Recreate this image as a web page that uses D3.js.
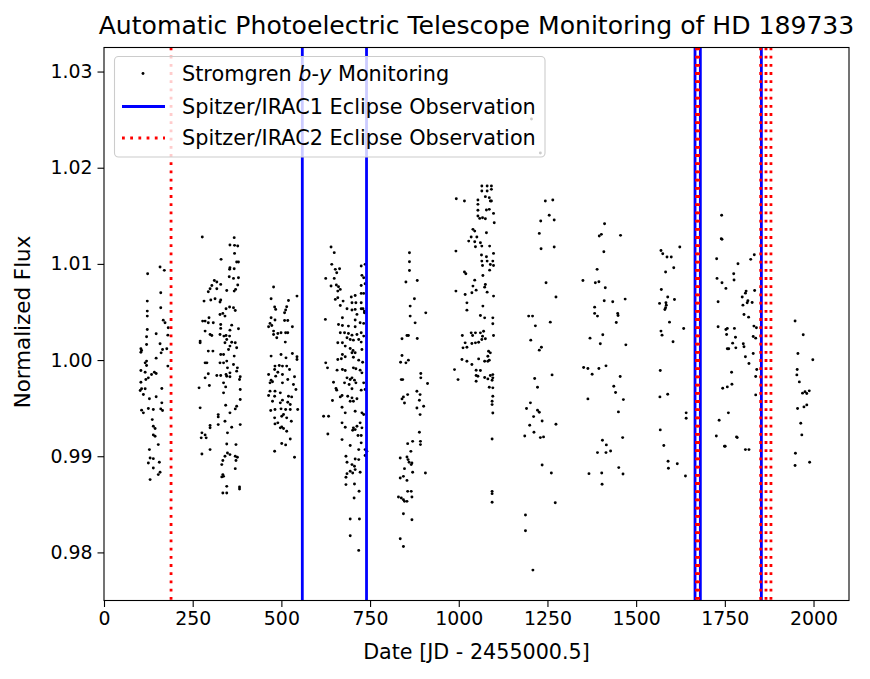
<!DOCTYPE html>
<html><head><meta charset="utf-8">
<script src="https://cdn.jsdelivr.net/npm/d3@7"></script>
<style>body{margin:0;background:#fff}svg{display:block;font-family:"DejaVu Sans",sans-serif}</style>
</head><body><svg id="c" width="870" height="679"></svg>
<script>
// Stromgren b-y monitoring: [date (JD-2455000.5), normalized flux]
const season1 = [[123,1.00898],[158,1.00967],[170,1.00933],[160,1.00700],[122,1.00613],[122,1.00509],[122,1.00457],[160,1.00544],[167,1.00415],[172,1.00388],[122,1.00318],[181,1.00336],[147,1.00273],[120,1.00242],[180,1.00259],[158,1.00169],[120,1.00162],[177,1.00117],[165,1.00110],[161,1.00075],[104,1.00117],[104,1.00082],[106,1.00100],[116,0.99971],[120,0.99989],[120,0.99944],[147,1.00020],[180,0.99937],[104,0.99891],[116,0.99874],[134,0.99850],[142,0.99874],[147,0.99860],[125,0.99815],[118,0.99798],[104,0.99770],[106,0.99701],[102,0.99683],[116,0.99701],[111,0.99642],[163,0.99704],[147,0.99618],[128,0.99597],[163,0.99555],[106,0.99479],[111,0.99451],[125,0.99496],[139,0.99486],[160,0.99492],[165,0.99475],[136,0.99381],[139,0.99312],[144,0.99288],[139,0.99222],[144,0.99208],[153,0.99121],[128,0.99069],[130,0.98982],[139,0.98975],[125,0.98930],[156,0.98937],[139,0.98878],[158,0.98833],[153,0.98809],[130,0.98757]];
const season2 = [[277,1.01279],[367,1.01273],[355,1.01196],[368,1.01193],[377,1.01186],[368,1.01109],[330,1.01047],[374,1.01019],[379,1.01019],[355,1.00960],[367,1.00950],[354,1.00943],[353,1.00867],[365,1.00849],[379,1.00856],[377,1.00780],[311,1.00828],[318,1.00811],[304,1.00776],[299,1.00742],[329,1.00787],[318,1.00742],[294,1.00710],[367,1.00717],[346,1.00724],[371,1.00735],[282,1.00613],[301,1.00624],[313,1.00638],[329,1.00624],[327,1.00603],[344,1.00533],[354,1.00551],[365,1.00544],[370,1.00516],[335,1.00485],[327,1.00474],[341,1.00457],[296,1.00440],[278,1.00405],[285,1.00405],[294,1.00388],[308,1.00388],[329,1.00370],[360,1.00363],[329,1.00329],[379,1.00325],[355,1.00311],[285,1.00301],[299,1.00266],[304,1.00256],[327,1.00266],[338,1.00249],[344,1.00256],[354,1.00249],[346,1.00214],[341,1.00180],[360,1.00186],[370,1.00180],[271,1.00197],[271,1.00180],[355,1.00145],[294,1.00093],[307,1.00093],[329,1.00058],[351,1.00110],[367,1.00041],[337,1.00058],[374,1.00128],[285,0.99971],[290,0.99971],[327,0.99971],[337,0.99971],[346,0.99989],[365,0.99954],[348,0.99919],[355,0.99867],[374,0.99885],[376,0.99919],[344,0.99850],[294,0.99857],[318,0.99839],[329,0.99839],[346,0.99832],[355,0.99826],[384,0.99826],[382,0.99798],[285,0.99815],[337,0.99763],[343,0.99721],[297,0.99735],[268,0.99711],[384,0.99694],[337,0.99659],[384,0.99590],[374,0.99520],[370,0.99492],[343,0.99530],[271,0.99503],[355,0.99451],[322,0.99433],[322,0.99409],[341,0.99364],[299,0.99319],[299,0.99295],[360,0.99302],[322,0.99329],[384,0.99329],[276,0.99243],[285,0.99222],[288,0.99191],[274,0.99191],[348,0.99243],[299,0.99069],[276,0.99024],[346,0.99128],[372,0.99121],[348,0.99034],[355,0.99017],[341,0.99000],[370,0.99000],[376,0.98989],[335,0.98955],[372,0.98955],[332,0.98913],[370,0.98871],[335,0.98809],[337,0.98791],[332,0.98785],[346,0.98687],[382,0.98681],[382,0.98660],[335,0.98618],[346,0.98618]];
const season3 = [[478,1.00759],[471,1.00638],[544,1.00665],[520,1.00620],[481,1.00551],[484,1.00527],[515,1.00554],[512,1.00520],[509,1.00492],[471,1.00440],[468,1.00381],[464,1.00346],[473,1.00360],[482,1.00416],[509,1.00412],[518,1.00412],[531,1.00346],[478,1.00301],[478,1.00266],[490,1.00277],[499,1.00284],[512,1.00284],[518,1.00284],[487,1.00232],[511,1.00187],[471,1.00041],[499,1.00058],[513,1.00023],[531,1.00069],[544,1.00034],[544,1.00006],[482,0.99937],[494,0.99944],[503,0.99937],[515,0.99937],[523,0.99902],[481,0.99902],[490,0.99874],[464,0.99850],[484,0.99833],[503,0.99850],[537,0.99826],[471,0.99791],[468,0.99763],[475,0.99774],[518,0.99798],[503,0.99763],[534,0.99746],[541,0.99694],[468,0.99677],[482,0.99677],[497,0.99659],[464,0.99631],[481,0.99624],[520,0.99624],[529,0.99617],[503,0.99583],[475,0.99572],[497,0.99555],[518,0.99562],[525,0.99538],[470,0.99475],[482,0.99486],[499,0.99493],[512,0.99486],[525,0.99486],[546,0.99486],[506,0.99434],[501,0.99416],[515,0.99399],[481,0.99399],[528,0.99364],[482,0.99336],[490,0.99347],[501,0.99305],[506,0.99288],[497,0.99295],[515,0.99260],[525,0.99180],[501,0.99132],[512,0.99118],[481,0.99052],[537,0.98989]];
const season4 = [[640,1.01176],[649,1.01117],[642,1.00995],[652,1.00943],[664,1.00950],[656,1.00908],[625,1.00849],[649,1.00849],[655,1.00780],[640,1.00770],[661,1.00763],[666,1.00735],[659,1.00717],[725,1.00978],[736,1.00995],[727,1.00881],[732,1.00856],[725,1.00776],[736,1.00794],[652,1.00631],[659,1.00648],[674,1.00613],[666,1.00568],[697,1.00655],[708,1.00672],[725,1.00693],[732,1.00693],[699,1.00596],[710,1.00596],[725,1.00596],[685,1.00534],[699,1.00520],[708,1.00527],[725,1.00534],[730,1.00534],[734,1.00509],[713,1.00475],[734,1.00492],[624,1.00423],[672,1.00440],[661,1.00370],[672,1.00360],[689,1.00353],[708,1.00416],[722,1.00388],[732,1.00381],[708,1.00346],[666,1.00284],[678,1.00284],[689,1.00277],[699,1.00259],[713,1.00266],[725,1.00284],[732,1.00249],[685,1.00232],[694,1.00214],[703,1.00207],[718,1.00214],[725,1.00187],[659,1.00180],[672,1.00180],[680,1.00145],[694,1.00121],[702,1.00100],[699,1.00076],[708,1.00076],[727,1.00110],[672,1.00058],[669,1.00013],[680,1.00034],[659,1.00006],[703,1.00030],[718,0.99999],[729,0.99978],[625,0.99971],[630,0.99919],[657,0.99895],[672,0.99902],[680,0.99892],[703,0.99919],[710,0.99909],[722,0.99895],[727,0.99867],[685,0.99815],[694,0.99798],[699,0.99815],[706,0.99791],[678,0.99763],[691,0.99746],[710,0.99763],[732,0.99763],[647,0.99770],[654,0.99704],[656,0.99687],[671,0.99631],[666,0.99617],[699,0.99701],[725,0.99687],[736,0.99694],[687,0.99624],[699,0.99607],[713,0.99597],[644,0.99579],[694,0.99572],[703,0.99572],[671,0.99510],[680,0.99451],[708,0.99468],[727,0.99451],[732,0.99434],[619,0.99416],[633,0.99416],[671,0.99347],[680,0.99302],[703,0.99295],[713,0.99312],[722,0.99347],[727,0.99295],[701,0.99270],[708,0.99277],[716,0.99215],[725,0.99215],[631,0.99232],[671,0.99173],[694,0.99111],[725,0.99139],[718,0.99069],[736,0.99069],[741,0.99052],[736,0.99007],[682,0.99000],[685,0.98937],[708,0.98972],[718,0.98965],[699,0.98913],[706,0.98896],[694,0.98844],[701,0.98826],[708,0.98861],[685,0.98819],[722,0.98833],[682,0.98781],[706,0.98712],[682,0.98705],[719,0.98636],[705,0.98566],[694,0.98347],[720,0.98347],[694,0.98174],[718,0.98021]];
const season5 = [[861,1.01116],[861,1.01022],[861,1.00932],[851,1.00811],[883,1.00828],[875,1.00637],[863,1.00561],[907,1.00491],[863,1.00457],[877,1.00387],[854,1.00255],[858,1.00255],[840,1.00221],[883,1.00224],[840,1.00047],[836,0.99978],[851,0.99971],[858,0.99999],[838,0.99797],[842,0.99797],[893,0.99860],[893,0.99815],[912,0.99756],[844,0.99617],[856,0.99641],[840,0.99596],[847,0.99554],[882,0.99676],[891,0.99641],[889,0.99582],[901,0.99520],[882,0.99502],[891,0.99433],[889,0.99249],[870,0.99155],[892,0.99155],[892,0.99121],[856,0.99131],[865,0.99051],[835,0.98982],[854,0.98992],[857,0.98965],[860,0.98937],[868,0.98930],[866,0.98913],[847,0.98871],[870,0.98833],[906,0.98826],[835,0.98774],[844,0.98791],[854,0.98749],[856,0.98635],[866,0.98635],[830,0.98576],[838,0.98566],[847,0.98531],[854,0.98531],[868,0.98576],[844,0.98548],[844,0.98402],[868,0.98340],[835,0.98142],[844,0.98062]];
const season6 = [[1065,1.01810],[1080,1.01810],[1092,1.01810],[1065,1.01758],[1080,1.01758],[1092,1.01775],[993,1.01678],[1016,1.01654],[1054,1.01664],[1054,1.01619],[1075,1.01699],[1086,1.01689],[1089,1.01654],[1092,1.01654],[1054,1.01557],[1078,1.01560],[1086,1.01567],[1098,1.01525],[1054,1.01498],[1067,1.01480],[1059,1.01473],[1075,1.01470],[1100,1.01428],[1040,1.01359],[1045,1.01341],[1078,1.01324],[1051,1.01279],[1035,1.01279],[1028,1.01237],[1045,1.01230],[1061,1.01220],[1065,1.01185],[1047,1.01178],[1087,1.01185],[992,1.01133],[1064,1.01092],[1078,1.01074],[1098,1.01109],[1065,1.01029],[1080,1.01029],[1096,1.01029],[1089,1.00994],[1067,1.00984],[1098,1.00984],[1087,1.00935],[1016,1.00915],[1020,1.00897],[1068,1.00880],[1045,1.00831],[1040,1.00769],[1075,1.00786],[1073,1.00758],[1037,1.00700],[1049,1.00727],[1080,1.00706],[992,1.00717],[1018,1.00682],[1098,1.00665],[1023,1.00595],[1023,1.00519],[1068,1.00561],[1061,1.00464],[1073,1.00439],[1096,1.00439],[1096,1.00377],[1010,1.00255],[1035,1.00283],[1039,1.00255],[1047,1.00283],[1061,1.00283],[1070,1.00300],[1067,1.00248],[1098,1.00255],[1018,1.00179],[1012,1.00127],[1023,1.00134],[1037,1.00172],[1047,1.00179],[1056,1.00186],[1065,1.00214],[1075,1.00221],[1084,1.00092],[1089,1.00075],[1082,1.00040],[1073,0.99988],[1082,0.99988],[1086,0.99999],[1009,1.00006],[1023,0.99988],[1037,0.99954],[1056,1.00012],[988,0.99901],[998,0.99797],[1049,0.99894],[1061,0.99891],[1049,0.99839],[1054,0.99832],[1073,0.99818],[1082,0.99804],[1089,0.99839],[1096,0.99849],[1096,0.99815],[1094,0.99790],[1049,0.99780],[1086,0.99717],[1096,0.99711],[1096,0.99624],[1094,0.99572],[1094,0.99537],[1096,0.99450],[1094,0.99180],[1094,0.98635],[1094,0.98611],[1094,0.98521]];
const season7 = [[1205,1.02506],[1230,1.02153],[1244,1.01654],[1265,1.01664],[1255,1.01505],[1231,1.01446],[1269,1.01456],[1227,1.01317],[1232,1.01158],[1269,1.01175],[1246,1.00804],[1274,1.00655],[1197,1.00457],[1208,1.00457],[1216,1.00356],[1258,1.00394],[1203,1.00207],[1227,1.00103],[1233,1.00134],[1263,0.99846],[1214,0.99808],[1222,0.99718],[1202,0.99555],[1191,0.99496],[1222,0.99478],[1227,0.99457],[1211,0.99412],[1235,0.99367],[1200,0.99322],[1274,0.99333],[1212,0.99249],[1186,0.99211],[1230,0.99194],[1239,0.99201],[1235,0.98909],[1261,0.98826],[1272,0.98517],[1188,0.98389],[1188,0.98226],[1209,0.97816]];
const season8 = [[1411,1.01418],[1396,1.01290],[1402,1.01307],[1456,1.01297],[1409,1.01127],[1390,1.00943],[1350,1.00828],[1385,1.00804],[1395,1.00814],[1413,1.00752],[1410,1.00616],[1434,1.00606],[1469,1.00634],[1383,1.00550],[1383,1.00485],[1391,1.00457],[1448,1.00485],[1449,1.00464],[1444,1.00391],[1370,1.00228],[1406,1.00263],[1399,1.00169],[1471,1.00158],[1352,0.99922],[1364,0.99912],[1376,0.99853],[1395,0.99912],[1415,0.99940],[1455,0.99829],[1437,0.99728],[1442,0.99662],[1464,0.99589],[1364,0.99596],[1450,0.99461],[1405,0.99166],[1416,0.99118],[1391,0.99038],[1415,0.99038],[1428,0.99055],[1462,0.99194],[1451,0.98882],[1463,0.98816],[1367,0.98819],[1403,0.98826],[1404,0.98708]];
const season9 = [[1570,1.01140],[1575,1.01106],[1587,1.01071],[1599,1.01071],[1623,1.01175],[1583,1.00915],[1606,1.00960],[1571,1.00734],[1589,1.00655],[1608,1.00630],[1566,1.00589],[1584,1.00596],[1585,1.00571],[1583,1.00544],[1581,1.00526],[1594,1.00394],[1634,1.00328],[1570,1.00301],[1573,1.00259],[1604,1.00190],[1568,0.99891],[1567,0.99617],[1589,0.99645],[1641,0.99451],[1641,0.99395],[1568,0.99274],[1578,0.99111],[1590,0.98948],[1591,0.98875],[1616,0.98922],[1639,0.98794]];
const season10 = [[1741,1.01505],[1740,1.01262],[1742,1.01255],[1727,1.01054],[1787,1.01002],[1775,1.00898],[1728,1.00849],[1742,1.00804],[1776,1.00832],[1753,1.00745],[1731,1.00606],[1731,1.00346],[1753,1.00318],[1757,1.00329],[1777,1.00329],[1755,1.00266],[1780,1.00238],[1772,1.00176],[1757,1.00117],[1761,1.00117],[1781,1.00127],[1769,0.99874],[1744,0.99707],[1757,0.99721],[1770,0.99749],[1760,0.99451],[1734,0.99374],[1726,0.99211],[1783,0.99201],[1785,0.99194],[1749,0.99104],[1751,0.99104],[1833,1.01095],[1823,1.01047],[1810,1.00717],[1808,1.00696],[1834,1.00724],[1799,1.00655],[1815,1.00617],[1813,1.00596],[1827,1.00599],[1801,1.00571],[1804,1.00474],[1817,1.00446],[1832,1.00353],[1839,1.00336],[1830,1.00245],[1837,1.00228],[1802,1.00169],[1804,1.00138],[1830,1.00068],[1808,1.00034],[1818,0.99964],[1840,0.99902],[1837,0.99829],[1837,0.99638],[1808,0.99069],[1818,0.99069]];
const season11 = [[1948,1.00406],[1971,1.00263],[1956,1.00068],[1998,1.00003],[1954,0.99902],[1953,0.99846],[1960,0.99773],[1969,0.99656],[1976,0.99670],[1981,0.99653],[1988,0.99680],[1955,0.99496],[1973,0.99513],[1981,0.99534],[1964,0.99343],[1967,0.99222],[1949,0.99031],[1948,0.98903],[1989,0.98937]];

// Spitzer eclipse observation dates (JD - 2455000.5)
const irac1Dates = [559, 740, 1666, 1681, 1853];
const irac2Dates = [189, 1670, 1676, 1851, 1866, 1880];

const xTicks = [0, 250, 500, 750, 1000, 1250, 1500, 1750, 2000];
const yTicks = [0.98, 0.99, 1.00, 1.01, 1.02, 1.03];
const xDomain = [0, 2100];
const yDomain = [0.975, 1.0325];

const titleText = "Automatic Photoelectric Telescope Monitoring of HD 189733";
const xLabel = "Date [JD - 2455000.5]";
const yLabel = "Normalized Flux";

const allPoints = [season1, season2, season3, season4, season5, season6, season7, season8, season9, season10, season11].flat();

const L = 104, R = 849, T = 47.5, B = 600.5;
const FS = 18.9;
const svg = d3.select("#c");
const x = d3.scaleLinear().domain(xDomain).range([L, R]);
const y = d3.scaleLinear().domain(yDomain).range([B, T]);

const plot = svg.append("g");
plot.append("defs").append("clipPath").attr("id", "clip")
  .append("rect").attr("x", L).attr("y", T).attr("width", R - L).attr("height", B - T);
const inner = plot.append("g").attr("clip-path", "url(#clip)");

inner.selectAll("circle.pt").data(allPoints).join("circle")
  .attr("class", "pt")
  .attr("cx", d => x(d[0])).attr("cy", d => y(d[1])).attr("r", 1.45).attr("fill", "#000");

inner.selectAll("line.irac1").data(irac1Dates).join("line")
  .attr("class", "irac1")
  .attr("x1", d => x(d)).attr("x2", d => x(d)).attr("y1", T).attr("y2", B)
  .attr("stroke", "#0000ff").attr("stroke-width", 2.8);

inner.selectAll("line.irac2").data(irac2Dates).join("line")
  .attr("class", "irac2")
  .attr("x1", d => x(d)).attr("x2", d => x(d)).attr("y1", T).attr("y2", B)
  .attr("stroke", "#ff0000").attr("stroke-width", 2.8).attr("stroke-dasharray", "2.8,5.4");

// axes
const xAxis = d3.axisBottom(x).tickValues(xTicks).tickSize(6.5).tickPadding(5).tickFormat(d3.format("d"));
const yAxis = d3.axisLeft(y).tickValues(yTicks).tickSize(6.5).tickPadding(5).tickFormat(d3.format(".2f"));
const gx = svg.append("g").attr("transform", `translate(0,${B})`).call(xAxis);
const gy = svg.append("g").attr("transform", `translate(${L},0)`).call(yAxis);
[gx, gy].forEach(g => {
  g.select(".domain").remove();
  g.selectAll(".tick line").attr("stroke", "#000").attr("stroke-width", 1.1);
  g.selectAll(".tick text").attr("font-size", FS).attr("fill", "#000").attr("font-family", "DejaVu Sans");
});
gx.selectAll(".tick text").attr("dy", "0.71em");

svg.append("rect").attr("x", L).attr("y", T).attr("width", R - L).attr("height", B - T)
  .attr("fill", "none").attr("stroke", "#000").attr("stroke-width", 1.1);

svg.append("text").attr("x", (L + R) / 2).attr("y", 34).attr("text-anchor", "middle")
  .attr("font-size", 25.1).text(titleText);
svg.append("text").attr("x", (L + R) / 2).attr("y", 659).attr("text-anchor", "middle")
  .attr("font-size", 20.7).text(xLabel);
svg.append("text").attr("transform", `translate(30,${(T + B) / 2 - 2}) rotate(-90)`).attr("text-anchor", "middle")
  .attr("font-size", 21.4).text(yLabel);

// legend
const LFS = 20.8;
const lg = svg.append("g");
lg.append("rect").attr("x", 114.5).attr("y", 56.5).attr("width", 430.5).attr("height", 100.5).attr("rx", 4)
  .attr("fill", "#fff").attr("fill-opacity", 0.8).attr("stroke", "#cccccc").attr("stroke-width", 1.1);
const rows = [73.5, 106.5, 138];
lg.append("circle").attr("cx", 143).attr("cy", rows[0]).attr("r", 1.45).attr("fill", "#000");
lg.append("line").attr("x1", 122).attr("x2", 165).attr("y1", rows[1]).attr("y2", rows[1])
  .attr("stroke", "#0000ff").attr("stroke-width", 2.8);
lg.append("line").attr("x1", 122).attr("x2", 165).attr("y1", rows[2]).attr("y2", rows[2])
  .attr("stroke", "#ff0000").attr("stroke-width", 2.8).attr("stroke-dasharray", "2.8,5.4");
const t0 = lg.append("text").attr("x", 182).attr("y", rows[0]).attr("dy", "0.36em").attr("font-size", LFS);
t0.append("tspan").text("Stromgren ");
t0.append("tspan").attr("font-style", "italic").text("b");
t0.append("tspan").text("-");
t0.append("tspan").attr("font-style", "italic").text("y");
t0.append("tspan").text(" Monitoring");
lg.append("text").attr("x", 182).attr("y", rows[1]).attr("dy", "0.36em").attr("font-size", LFS).text("Spitzer/IRAC1 Eclipse Observation");
lg.append("text").attr("x", 182).attr("y", rows[2]).attr("dy", "0.36em").attr("font-size", LFS).text("Spitzer/IRAC2 Eclipse Observation");
</script></body></html>
